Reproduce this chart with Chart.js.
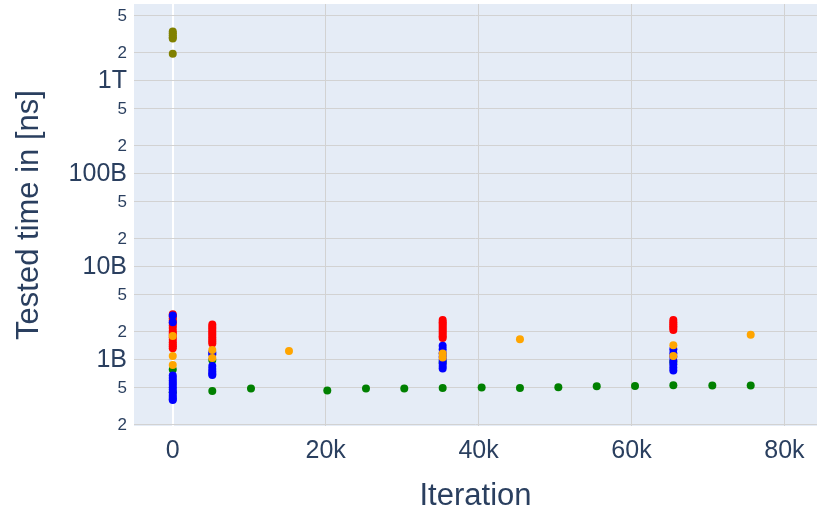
<!DOCTYPE html>
<html><head><meta charset="utf-8">
<script src="https://cdn.jsdelivr.net/npm/chart.js@4.4.1/dist/chart.umd.min.js"></script>
<style>html,body{margin:0;padding:0;background:#fff;}</style>
</head><body>
<canvas id="c" width="817" height="513" style="display:block;width:817px;height:513px"></canvas>
<script>
// ---- data (iteration, tested time in ns) ----
const oliveX = [0, 0, 0, 0, 0, 0];
const oliveY = [3.4e12, 3.25e12, 3.1e12, 2.95e12, 2.85e12, 1.95e12];

const redX = [0,0,0,0,0,0,0,0,0,0,0,0,0,0,0,0,
  5170,5170,5170,5170,5170,5170,5170,5170,5170,5170,
  35300,35300,35300,35300,35300,35300,35300,35300,35300,35300,
  65470,65470,65470,65470,65470,65470];
const redY = [3.1e9,2.95e9,2.8e9,2.65e9,2.5e9,2.35e9,2.2e9,2.05e9,1.95e9,1.85e9,1.75e9,1.65e9,1.55e9,1.47e9,1.4e9,1.34e9,
  2.4e9,2.28e9,2.16e9,2.05e9,1.95e9,1.85e9,1.75e9,1.66e9,1.58e9,1.5e9,
  2.68e9,2.55e9,2.43e9,2.32e9,2.21e9,2.1e9,2.0e9,1.9e9,1.8e9,1.72e9,
  2.69e9,2.55e9,2.42e9,2.3e9,2.2e9,2.1e9];

const blueX = [0,0,0,0,0,0,0,0,0,0,0,0,0,0,
  5170,5170,5170,5170,5170,5170,5170,
  35300,35300,35300,35300,35300,35300,35300,35300,
  65470,65470,65470,65470,65470,65470,65470];
const blueY = [3.0e9,2.55e9,0.68e9,0.64e9,0.6e9,0.57e9,0.54e9,0.51e9,0.48e9,0.45e9,0.42e9,0.4e9,0.38e9,0.37e9,
  1.2e9,1.15e9,0.86e9,0.8e9,0.75e9,0.71e9,0.69e9,
  1.42e9,1.3e9,1.18e9,1.08e9,1.0e9,0.92e9,0.86e9,0.81e9,
  1.3e9,1.18e9,1.08e9,0.98e9,0.9e9,0.83e9,0.77e9];

const orangeX = [0, 0, 0, 5170, 5170, 15200, 35300, 35300, 45410, 65470, 65470, 75590];
const orangeY = [1.81e9, 1.1e9, 0.88e9, 1.28e9, 1.05e9, 1.25e9, 1.17e9, 1.06e9, 1.67e9, 1.44e9, 1.1e9, 1.87e9];

const greenX = [0, 0, 5170, 5170, 10230, 20210, 25270, 30280, 35300, 35300, 40400, 45410, 50430, 55450, 60460, 65470, 65470, 70570, 75590];
const greenY = [0.79e9, 0.45e9, 1.0e9, 0.465e9, 0.493e9, 0.47e9, 0.493e9, 0.493e9, 0.5e9, 0.95e9, 0.505e9, 0.5e9, 0.509e9, 0.522e9, 0.526e9, 0.534e9, 0.95e9, 0.53e9, 0.53e9];

// ---- axes ----
const xTickValues = [0, 20000, 40000, 60000, 80000];
const xTickLabels = ['0', '20k', '40k', '60k', '80k'];
const yTickValues = [2e8, 5e8, 1e9, 2e9, 5e9, 1e10, 2e10, 5e10, 1e11, 2e11, 5e11, 1e12, 2e12, 5e12];
const yTickLabels = ['2', '5', '1B', '2', '5', '10B', '2', '5', '100B', '2', '5', '1T', '2', '5'];

const FONT = 'Liberation Sans, Arial, sans-serif';
const TXT = '#2a3f5f';

function pts(xs, ys) { return xs.map((x, i) => ({x: x, y: ys[i]})); }

const bgPlugin = {
  id: 'bg',
  beforeDraw(chart) {
    const a = chart.chartArea, c = chart.ctx;
    c.save(); c.fillStyle = '#E5ECF6';
    c.fillRect(a.left, a.top, a.right - a.left, a.bottom - a.top);
    c.restore();
  }
};

function ds(label, xs, ys, color) {
  return {label, data: pts(xs, ys), backgroundColor: color, borderColor: color,
    pointRadius: 4, pointBorderWidth: 0, pointHoverRadius: 4};
}

function noPad(s) { s.paddingTop = 0; s.paddingBottom = 0; s.paddingLeft = 0; s.paddingRight = 0; }

new Chart(document.getElementById('c'), {
  type: 'scatter',
  data: {
    datasets: [
      ds('olive', oliveX, oliveY, '#808000'),
      ds('orange', orangeX, orangeY, '#ffa500'),
      ds('blue', blueX, blueY, '#0000ff'),
      ds('green', greenX, greenY, '#008000'),
      ds('red', redX, redY, '#ff0000')
    ]
  },
  options: {
    responsive: false, animation: false, devicePixelRatio: 1,
    layout: {autoPadding: false, padding: {top: 4, right: 0, left: 0, bottom: 0}},
    plugins: {legend: {display: false}, tooltip: {enabled: false}},
    scales: {
      x: {
        type: 'linear', min: -5070, max: 84260,
        afterBuildTicks: s => { s.ticks = xTickValues.map(v => ({value: v})); },
        afterFit: s => { s.height = 87; noPad(s); },
        ticks: {callback: (v, i) => xTickLabels[i], color: TXT, font: {family: FONT, size: 25},
          padding: 10, maxRotation: 0, autoSkip: false},
        grid: {drawTicks: false,
          color: c => (c.tick && c.tick.value === 0) ? '#ffffff' : '#d2d2d2',
          lineWidth: c => (c.tick && c.tick.value === 0) ? 2 : 1},
        border: {display: false},
        title: {display: true, text: 'Iteration', color: TXT, font: {family: FONT, size: 31},
          padding: {top: 0, bottom: -2}}
      },
      y: {
        type: 'logarithmic', min: 1.95e8, max: 6.7e12,
        afterBuildTicks: s => { s.ticks = yTickValues.map(v => ({value: v})); },
        afterFit: s => { s.width = 134; noPad(s); },
        ticks: {callback: (v, i) => yTickLabels[i], color: TXT, autoSkip: false, padding: 7,
          font: c => ({family: FONT, size: (c.tick && yTickLabels[c.index] && yTickLabels[c.index].length > 1) ? 25 : 17})},
        grid: {drawTicks: false, color: '#d2d2d2', lineWidth: 1},
        border: {display: false},
        title: {display: true, text: 'Tested time in [ns]', color: TXT, font: {family: FONT, size: 31},
          padding: {top: 11, bottom: 0}}
      }
    }
  },
  plugins: [bgPlugin]
});
</script>
</body></html>
